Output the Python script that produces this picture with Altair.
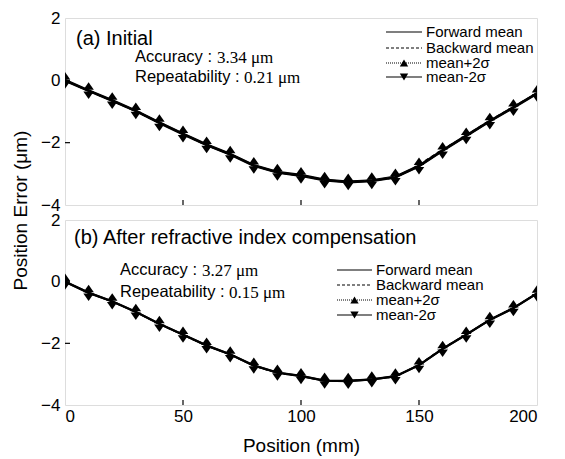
import altair as alt
import pandas as pd

positions = [0, 10, 20, 30, 40, 50, 60, 70, 80, 90, 100, 110, 120, 130, 140, 150, 160, 170, 180, 190, 200]

top_forward = [0.00, -0.33, -0.65, -0.98, -1.36, -1.72, -2.07, -2.37, -2.73, -2.95, -3.05, -3.20, -3.26, -3.22, -3.10, -2.75, -2.25, -1.78, -1.31, -0.87, -0.42]
top_backward = [0.00, -0.35, -0.66, -1.00, -1.37, -1.73, -2.09, -2.38, -2.74, -2.96, -3.06, -3.22, -3.25, -3.20, -3.14, -2.70, -2.22, -1.76, -1.28, -0.85, -0.40]
top_plus = [0.03, -0.30, -0.62, -0.95, -1.33, -1.69, -2.04, -2.34, -2.70, -2.92, -3.02, -3.17, -3.23, -3.19, -3.07, -2.72, -2.22, -1.75, -1.28, -0.84, -0.39]
top_minus = [-0.03, -0.36, -0.68, -1.01, -1.39, -1.75, -2.10, -2.40, -2.76, -2.98, -3.08, -3.23, -3.29, -3.25, -3.13, -2.78, -2.28, -1.81, -1.34, -0.90, -0.45]

bot_forward = [0.00, -0.36, -0.64, -0.98, -1.37, -1.72, -2.07, -2.36, -2.72, -2.95, -3.06, -3.21, -3.22, -3.17, -3.07, -2.71, -2.18, -1.72, -1.24, -0.86, -0.38]
bot_backward = [0.00, -0.37, -0.65, -0.99, -1.38, -1.73, -2.08, -2.37, -2.73, -2.97, -3.07, -3.22, -3.21, -3.16, -3.09, -2.69, -2.16, -1.71, -1.23, -0.85, -0.37]
bot_plus = [0.02, -0.34, -0.62, -0.96, -1.35, -1.70, -2.05, -2.34, -2.70, -2.93, -3.04, -3.19, -3.20, -3.15, -3.05, -2.69, -2.16, -1.70, -1.22, -0.84, -0.36]
bot_minus = [-0.02, -0.38, -0.66, -1.00, -1.39, -1.74, -2.09, -2.38, -2.74, -2.97, -3.08, -3.23, -3.24, -3.19, -3.09, -2.73, -2.20, -1.74, -1.26, -0.88, -0.40]

x_ticks = [0, 50, 100, 150, 200]
y_ticks = [-4, -2, 0, 2]
legend_labels = ["Forward mean", "Backward mean", "mean+2\u03c3", "mean-2\u03c3"]

W = 472
H_TOP = 187
H_BOT = 185
SANS = "Liberation Sans"
SERIF = "Liberation Serif"
UP_PATH = "M0,-1L0.7,0L-0.7,0Z"
DOWN_PATH = "M0,1L0.7,0L-0.7,0Z"


def txt(s, x, y, size, font=SANS):
    return alt.Chart(pd.DataFrame({"t": [s]})).mark_text(
        align="left", baseline="middle", font=font, fontSize=size, color="black"
    ).encode(x=alt.value(x), y=alt.value(y), text="t:N")


def panel(fwd, bwd, plus, minus, label, acc, rep, pos, bottom, height):
    df = pd.DataFrame({"x": positions, "f": fwd, "b": bwd, "p": plus, "m": minus})
    xscale = alt.Scale(domain=[0, 200], nice=False)
    yscale = alt.Scale(domain=[-4, 2], nice=False)
    if bottom:
        xaxis = alt.Axis(values=x_ticks, title="Position (mm)", ticks=False, domain=False, grid=False,
                         labelFontSize=17, labelFont=SANS, labelColor="black", labelPadding=3,
                         titleFontSize=19, titleFont=SANS, titleFontWeight="normal", titleColor="black",
                         titlePadding=12, format="d")
        yaxis = alt.Axis(values=y_ticks, title=None, ticks=False, domain=False, grid=False,
                         labelFontSize=17, labelFont=SANS, labelColor="black", labelPadding=5, format="d")
    else:
        xaxis = alt.Axis(labels=False, ticks=False, domain=False, grid=False, title=None)
        yaxis = alt.Axis(values=y_ticks, title="Position Error (\u03bcm)", ticks=False, domain=False, grid=False,
                         labelFontSize=17, labelFont=SANS, labelColor="black", labelPadding=5, format="d",
                         titleFontSize=19, titleFont=SANS, titleFontWeight="normal", titleColor="black",
                         titleX=-45, titleY=192, titleBaseline="middle", titleAngle=270, titleAlign="center")
    base = alt.Chart(df)
    l_f = base.mark_line(color="black", strokeWidth=2, clip=True).encode(
        x=alt.X("x:Q", scale=xscale, axis=xaxis), y=alt.Y("f:Q", scale=yscale, axis=yaxis))
    l_b = base.mark_line(color="black", strokeWidth=1.2, strokeDash=[4, 3], clip=True).encode(x="x:Q", y="b:Q")
    l_p = base.mark_line(color="black", strokeWidth=1.2, clip=True).encode(x="x:Q", y="p:Q")
    l_m = base.mark_line(color="black", strokeWidth=1.2, clip=True).encode(x="x:Q", y="m:Q")
    p_p = base.mark_point(shape=UP_PATH, filled=True, color="black", size=225, opacity=1, clip=True).encode(x="x:Q", y="p:Q")
    p_m = base.mark_point(shape=DOWN_PATH, filled=True, color="black", size=225, opacity=1, clip=True).encode(x="x:Q", y="m:Q")

    # inward ticks
    tdf = pd.DataFrame({"x": x_ticks[1:-1]})
    xt = alt.Chart(tdf).mark_rule(color="black", strokeWidth=1.2).encode(
        x="x:Q", y=alt.value(height), y2=alt.value(height - 5))
    ydf = pd.DataFrame({"y": y_ticks[1:-1]})
    yt = alt.Chart(ydf).mark_rule(color="black", strokeWidth=1.2).encode(
        y="y:Q", x=alt.value(0), x2=alt.value(5))

    layers = [l_f, l_b, l_p, l_m, p_p, p_m, xt, yt]
    layers.append(txt(label, pos["lx"], pos["ly"], 20))
    layers.append(txt("Accuracy : ", pos["ax"], pos["ay"], 16.5))
    layers.append(txt(acc + " \u03bcm", pos["ax"] + 82, pos["ay"] + 1, 17, SERIF))
    layers.append(txt("Repeatability : ", pos["ax"], pos["ry"], 16.5))
    layers.append(txt(rep + " \u03bcm", pos["ax"] + 109, pos["ry"] + 1, 17, SERIF))

    # legend
    lx1, lx2, tx = pos["g1"], pos["g2"], pos["gt"]
    dashes = [None, [3, 2], [1, 1], None]
    shapes = [None, None, "triangle-up", "triangle-down"]
    one = pd.DataFrame({"k": [0]})
    for i, lab in enumerate(legend_labels):
        yy = pos["gy"][i]
        kw = dict(color="black", strokeWidth=1.2)
        if dashes[i]:
            kw["strokeDash"] = dashes[i]
        layers.append(alt.Chart(one).mark_rule(**kw).encode(
            x=alt.value(lx1), x2=alt.value(lx2), y=alt.value(yy)))
        if shapes[i]:
            layers.append(alt.Chart(one).mark_point(shape=shapes[i], filled=True, color="black",
                                                     size=70, opacity=1).encode(
                x=alt.value((lx1 + lx2) / 2), y=alt.value(yy)))
        layers.append(txt(lab, tx, yy, 15))
    return alt.layer(*layers).properties(width=W, height=height)


top = panel(top_forward, top_backward, top_plus, top_minus, "(a) Initial", "3.34", "0.21",
            dict(lx=11, ly=21, ax=70, ay=39, ry=59, g1=321, g2=357, gt=361, gy=[14, 30, 45, 59]),
            False, H_TOP)
bot = panel(bot_forward, bot_backward, bot_plus, bot_minus, "(b) After refractive index compensation",
            "3.27", "0.15",
            dict(lx=9, ly=18, ax=55, ay=50, ry=72, g1=272, g2=307, gt=311, gy=[50, 65, 80, 95]),
            True, H_BOT)

chart = alt.vconcat(top, bot, spacing=15, bounds="flush").properties(
    padding={"left": 2, "top": 0, "right": 5, "bottom": 0}
).configure_view(stroke="black", strokeWidth=1.5).configure(background="white")

chart.save("out.html", embed_options={"renderer": "svg", "actions": False})
